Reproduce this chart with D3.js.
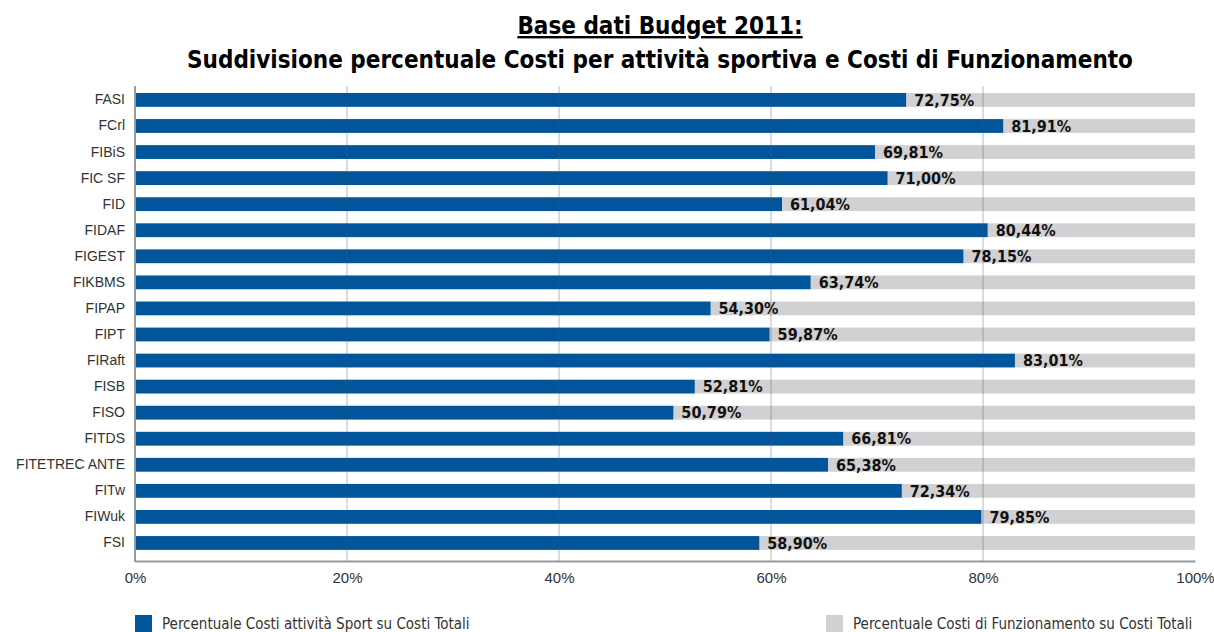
<!DOCTYPE html>
<html>
<head>
<meta charset="utf-8">
<script src="https://cdn.jsdelivr.net/npm/d3@7"></script>
<style>
  body { margin: 0; background: #fff; }
  svg { font-family: "Liberation Sans Narrow", "DejaVu Sans Condensed", "Open Sans", sans-serif; }
</style>
</head>
<body>
<div id="chart"></div>
<script>
var federazioni = ["FASI", "FCrl", "FIBiS", "FIC SF", "FID", "FIDAF", "FIGEST", "FIKBMS", "FIPAP",
    "FIPT", "FIRaft", "FISB", "FISO", "FITDS", "FITETREC ANTE", "FITw", "FIWuk", "FSI"];
var sport = [72.75, 81.91, 69.81, 71.00, 61.04, 80.44, 78.15, 63.74, 54.30,
    59.87, 83.01, 52.81, 50.79, 66.81, 65.38, 72.34, 79.85, 58.90];
var funzionamento = sport.map(function(v) { return 100 - v; });
var ticks = [0, 20, 40, 60, 80, 100];
var legendLabels = ["Percentuale Costi attività Sport su Costi Totali", "Percentuale Costi di Funzionamento su Costi Totali"];

var w = 1214, h = 632;
var blue = "#00559b", grey = "#d1d1d3";
var plotTop = 86, plotBottom = 561;

var svg = d3.select("#chart")
    .append("svg")
    .attr("width", w)
    .attr("height", h);

// titolo
svg.append("text")
    .attr("x", 660).attr("y", 34)
    .attr("text-anchor", "middle")
    .style("font-size", "24px").style("font-weight", "bold")
    .style("text-decoration", "underline")
    .text("Base dati Budget 2011:");
svg.append("text")
    .attr("x", 660).attr("y", 68)
    .attr("text-anchor", "middle")
    .style("font-size", "24px").style("font-weight", "bold")
    .text("Suddivisione percentuale Costi per attività sportiva e Costi di Funzionamento");

var x = d3.scaleLinear().domain([0, 100]).range([135, 1195]);
var y = d3.scaleBand().domain(federazioni).range([86.5, 556.4]).paddingInner(0.47).paddingOuter(0.25);

// barre grigie (funzionamento) impilate dopo quelle blu
svg.append("g").selectAll("rect")
    .data(federazioni)
    .enter().append("rect")
    .attr("x", function(d, i) { return x(sport[i]); })
    .attr("y", function(d) { return y(d); })
    .attr("width", function(d, i) { return x(sport[i] + funzionamento[i]) - x(sport[i]); })
    .attr("height", y.bandwidth())
    .attr("fill", grey);

svg.append("g").selectAll("rect")
    .data(federazioni)
    .enter().append("rect")
    .attr("x", x(0))
    .attr("y", function(d) { return y(d); })
    .attr("width", function(d, i) { return x(sport[i]) - x(0); })
    .attr("height", y.bandwidth())
    .attr("fill", blue);

// griglia
svg.append("g").selectAll("line")
    .data(ticks.slice(1, 5))
    .enter().append("line")
    .attr("x1", function(d) { return x(d); })
    .attr("x2", function(d) { return x(d); })
    .attr("y1", plotTop).attr("y2", plotBottom)
    .attr("stroke", "#555").attr("stroke-opacity", 0.35).attr("stroke-width", 1.2);

// etichette valori
svg.append("g").selectAll("text")
    .data(federazioni)
    .enter().append("text")
    .attr("x", function(d, i) { return x(sport[i]) + 8; })
    .attr("y", function(d) { return y(d) + y.bandwidth() / 2; })
    .attr("dy", "0.36em")
    .style("font-size", "16px").style("font-weight", "bold").style("fill", "#111")
    .text(function(d, i) { return sport[i].toFixed(2).replace(".", ",") + "%"; });

// assi
var xAxis = d3.axisBottom(x).tickValues(ticks).tickSize(0).tickPadding(11)
    .tickFormat(function(d) { return d + "%"; });
var gx = svg.append("g")
    .attr("transform", "translate(0," + plotBottom + ")")
    .call(xAxis);
gx.select(".domain").attr("stroke", "#999").attr("stroke-width", 2);
gx.selectAll("text").style("font-size", "15px").style("fill", "#333").style("font-family", "inherit");

var yAxis = d3.axisLeft(y).tickSize(0).tickPadding(10);
var gy = svg.append("g")
    .attr("transform", "translate(" + x(0) + ",0)")
    .call(yAxis);
gy.select(".domain").remove();
gy.append("line").attr("y1", plotTop).attr("y2", plotBottom + 1)
    .attr("stroke", "#999").attr("stroke-width", 2);
gy.selectAll("text").style("font-size", "14px").style("fill", "#333").style("font-family", "inherit");

// legenda
var legX = [135, 826];
var leg = svg.append("g").selectAll("g")
    .data(legendLabels)
    .enter().append("g")
    .attr("transform", function(d, i) { return "translate(" + legX[i] + ",615)"; });
leg.append("rect").attr("width", 17).attr("height", 17)
    .attr("fill", function(d, i) { return i === 0 ? blue : grey; });
leg.append("text").attr("x", 27).attr("y", 14)
    .style("font-size", "15px").style("fill", "#333")
    .text(function(d) { return d; });
</script>
</body>
</html>
